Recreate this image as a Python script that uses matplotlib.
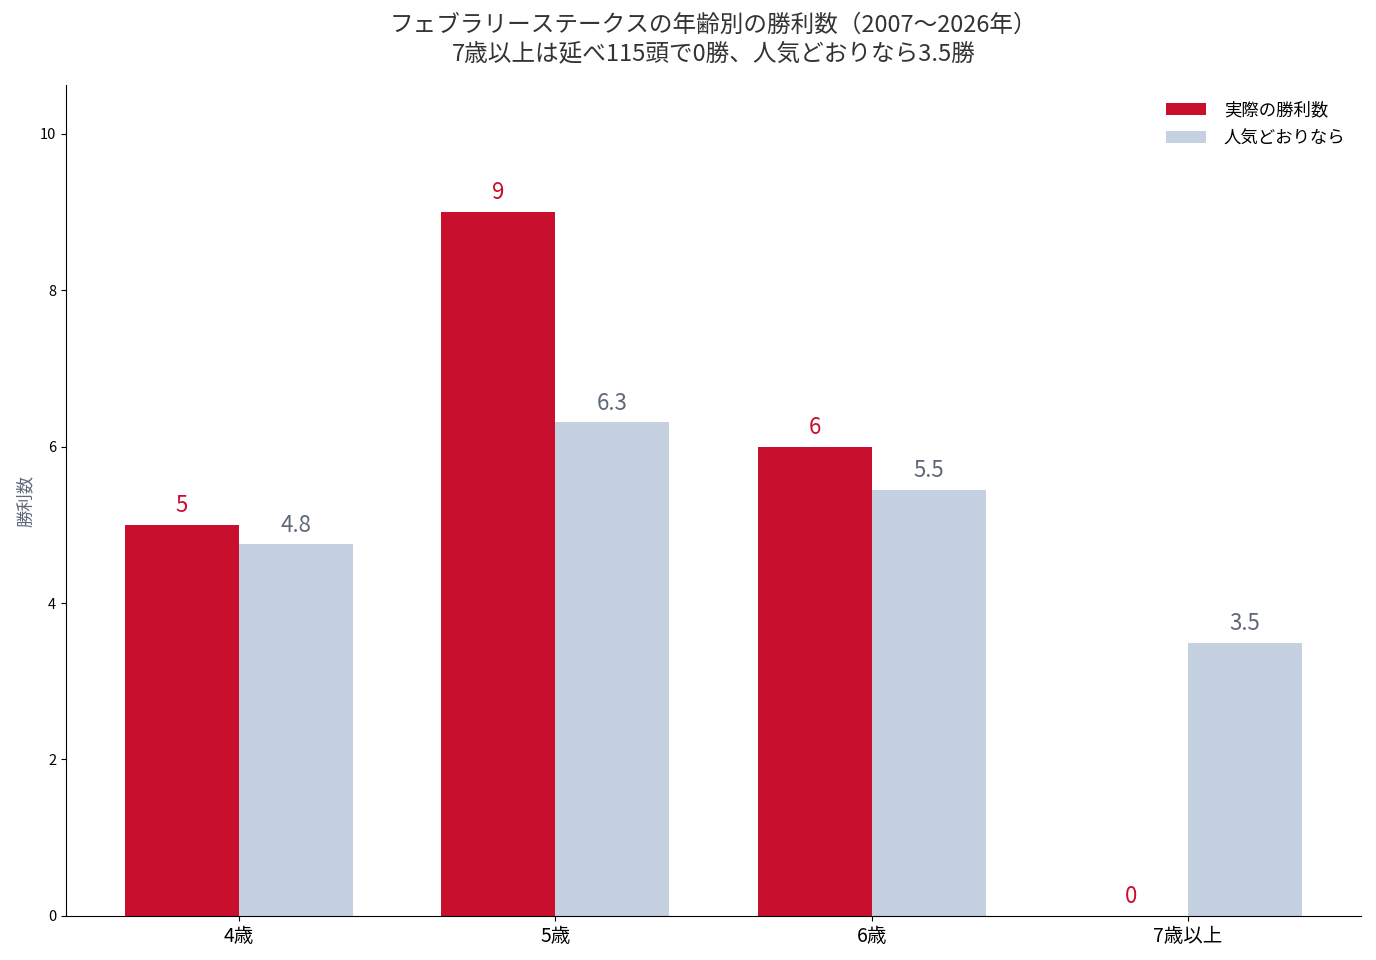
import matplotlib.pyplot as plt
import numpy as np

plt.rcParams['font.family'] = ['Noto Sans CJK JP', 'DejaVu Sans']

# データ
ages = ['4歳', '5歳', '6歳', '7歳以上']
actual_wins = [5, 9, 6, 0]
expected_wins = [4.75, 6.31, 5.45, 3.49]
expected_labels = ['4.8', '6.3', '5.5', '3.5']

red = '#C8102E'
blue = '#C5D1E0'
label_gray = '#5F6878'

fig, ax = plt.subplots(figsize=(13.76, 9.6), dpi=100)
x = np.arange(len(ages))
w = 0.36

ax.bar(x - w/2, actual_wins, w, color=red, label='実際の勝利数')
ax.bar(x + w/2, expected_wins, w, color=blue, label='人気どおりなら')

for xi, v in zip(x, actual_wins):
    ax.text(xi - w/2, v + 0.1, str(v), ha='center', va='bottom', color=red, fontsize=16)
for xi, v, s in zip(x, expected_wins, expected_labels):
    ax.text(xi + w/2, v + 0.1, s, ha='center', va='bottom', color=label_gray, fontsize=16)

ax.set_xticks(x)
ax.set_xticklabels(ages, fontsize=14)
ax.set_ylim(0, 10.62)
ax.set_yticks([0, 2, 4, 6, 8, 10])
ax.tick_params(axis='y', labelsize=10.5)
ax.set_ylabel('勝利数', color=label_gray, fontsize=12.5)
ax.spines['top'].set_visible(False)
ax.spines['right'].set_visible(False)
ax.legend(frameon=False, fontsize=12.5, loc='upper right', handlelength=2.3,
          labelspacing=0.6, handletextpad=1.0)
ax.set_title('フェブラリーステークスの年齢別の勝利数（2007〜2026年）\n7歳以上は延べ115頭で0勝、人気どおりなら3.5勝',
             fontsize=17, color='#333333', pad=18, linespacing=1.3)

fig.subplots_adjust(left=0.048, right=0.989, top=0.911, bottom=0.046)
fig.savefig('out.png', dpi=100)
